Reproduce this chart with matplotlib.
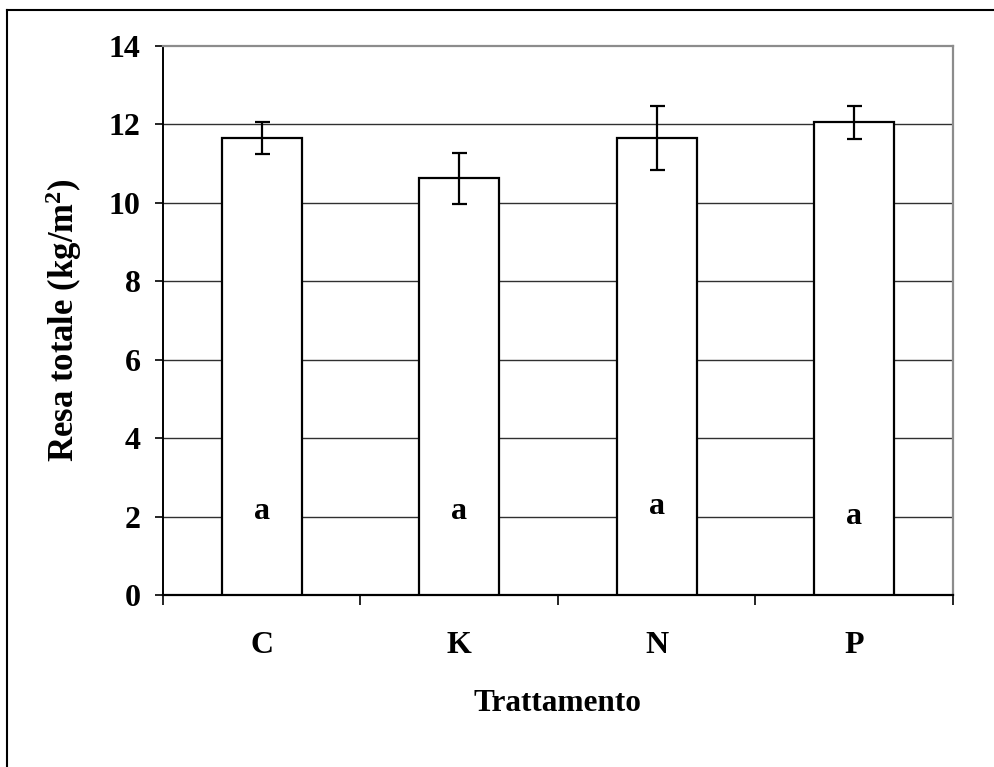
import matplotlib
matplotlib.use("Agg")
import matplotlib.pyplot as plt
from matplotlib.lines import Line2D

categories = ["C", "K", "N", "P"]
values = [11.65, 10.63, 11.65, 12.05]
errors = [0.40, 0.65, 0.82, 0.42]
letters = ["a", "a", "a", "a"]
letter_y = [2.12, 2.12, 2.25, 2.0]
yticks = [0, 2, 4, 6, 8, 10, 12, 14]

plt.rcParams['font.family'] = ['Liberation Serif', 'DejaVu Serif']
plt.rcParams['font.weight'] = 'bold'
plt.rcParams['mathtext.default'] = 'regular'

W, H = 995, 767
fig = plt.figure(figsize=(W / 100, H / 100), dpi=100)
ax = fig.add_axes([163 / W, 1 - 595 / H, (953 - 163) / W, (595 - 46) / H])

x = list(range(len(categories)))
ax.bar(x, values, width=0.405, color='white', edgecolor='black', linewidth=1.6, zorder=3)
ax.errorbar(x, values, yerr=errors, fmt='none', ecolor='black', elinewidth=1.6,
            capsize=5.4, capthick=1.6, zorder=4)
for xi, t, yv in zip(x, letters, letter_y):
    ax.text(xi, yv, t, ha='center', va='center', fontsize=23, fontweight='bold', zorder=5)

ax.set_xlim(-0.5, len(categories) - 0.5)
ax.set_ylim(0, 14)
ax.set_yticks(yticks)
ax.set_yticklabels([str(v) for v in yticks], fontsize=23, fontweight='bold')
ax.set_xticks(x)
ax.set_xticklabels(categories, fontsize=23, fontweight='bold')
ax.set_xticks([i - 0.5 for i in range(len(categories) + 1)], minor=True)
ax.tick_params(axis='x', which='major', length=0, pad=26)
ax.tick_params(axis='x', which='minor', length=7, width=1.2, direction='out')
ax.tick_params(axis='y', which='major', length=6, width=1.2, direction='out', pad=10)

for yv in yticks[1:-1]:
    ax.axhline(yv, color='#303030', linewidth=1.0, zorder=1)

ax.spines['left'].set_linewidth(1.4)
ax.spines['bottom'].set_linewidth(1.6)
ax.spines['top'].set_color('#8c8c8c')
ax.spines['right'].set_color('#8c8c8c')
ax.spines['top'].set_linewidth(1.6)
ax.spines['right'].set_linewidth(1.6)

ax.set_ylabel('Resa totale (kg/m$^{2}$)', fontsize=25, fontweight='bold', labelpad=18)
ax.set_xlabel('Trattamento', fontsize=22.5, fontweight='bold', labelpad=21)

# outer frame
fig.add_artist(Line2D([7 / W, 7 / W], [0, 1 - 10 / H], transform=fig.transFigure,
                      color='black', linewidth=1.5))
fig.add_artist(Line2D([7 / W, 1], [1 - 10 / H, 1 - 10 / H], transform=fig.transFigure,
                      color='black', linewidth=1.5))

fig.savefig('out.png', dpi=100, facecolor='white')
